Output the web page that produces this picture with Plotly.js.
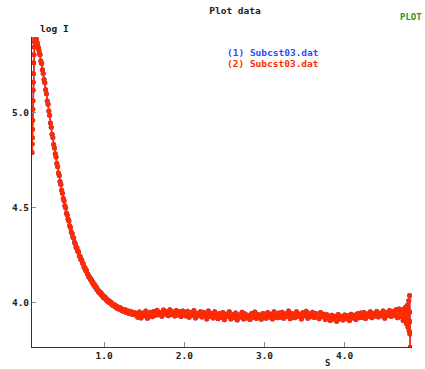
<!DOCTYPE html>
<html>
<head>
<meta charset="utf-8">
<script src="https://cdn.plot.ly/plotly-3.0.1.min.js"></script>
<style>html,body{margin:0;padding:0;background:#fff;}#chart{width:425px;height:369px;}</style>
</head>
<body>
<div id="chart"></div>
<script>
// scattering vector S
var sValues = [
  0.100,0.102,0.104,0.106,0.108,0.110,0.112,0.114,0.116,0.118,0.121,0.124,0.128,0.132,0.136,0.140,0.145,0.150,0.156,0.162,0.170,0.178,0.186,0.194,
  0.20,0.21,0.22,0.23,0.24,0.25,0.26,0.27,0.28,0.29,0.30,0.31,0.32,0.33,0.34,0.35,0.36,0.37,0.38,0.39,
  0.40,0.41,0.42,0.43,0.44,0.45,0.46,0.47,0.48,0.49,0.50,0.51,0.52,0.53,0.54,0.55,0.56,0.57,0.58,0.59,
  0.60,0.61,0.62,0.63,0.64,0.65,0.66,0.67,0.68,0.69,0.70,0.71,0.72,0.73,0.74,0.75,0.76,0.77,0.78,0.79,
  0.80,0.81,0.82,0.83,0.84,0.85,0.86,0.87,0.88,0.89,0.90,0.91,0.92,0.93,0.94,0.95,0.96,0.97,0.98,0.99,
  1.00,1.01,1.02,1.03,1.04,1.05,1.06,1.07,1.08,1.09,1.10,1.11,1.12,1.13,1.14,1.15,1.16,1.17,1.18,1.19,
  1.20,1.21,1.22,1.23,1.24,1.25,1.26,1.27,1.28,1.29,1.30,1.31,1.32,1.33,1.34,1.35,1.36,1.37,1.38,1.39,1.40,
  1.42,1.44,1.46,1.48,1.50,1.52,1.54,1.56,1.58,1.60,
  1.62,1.64,1.66,1.68,1.70,1.72,1.74,1.76,1.78,1.80,
  1.82,1.84,1.86,1.88,1.90,1.92,1.94,1.96,1.98,2.00,
  2.02,2.04,2.06,2.08,2.10,2.12,2.14,2.16,2.18,2.20,
  2.22,2.24,2.26,2.28,2.30,2.32,2.34,2.36,2.38,2.40,
  2.42,2.44,2.46,2.48,2.50,2.52,2.54,2.56,2.58,2.60,
  2.62,2.64,2.66,2.68,2.70,2.72,2.74,2.76,2.78,2.80,
  2.82,2.84,2.86,2.88,2.90,2.92,2.94,2.96,2.98,3.00,
  3.02,3.04,3.06,3.08,3.10,3.12,3.14,3.16,3.18,3.20,
  3.22,3.24,3.26,3.28,3.30,3.32,3.34,3.36,3.38,3.40,
  3.42,3.44,3.46,3.48,3.50,3.52,3.54,3.56,3.58,3.60,
  3.62,3.64,3.66,3.68,3.70,3.72,3.74,3.76,3.78,3.80,
  3.82,3.84,3.86,3.88,3.90,3.92,3.94,3.96,3.98,4.00,
  4.02,4.04,4.06,4.08,4.10,4.12,4.14,4.16,4.18,4.20,
  4.22,4.24,4.26,4.28,4.30,4.32,4.34,4.36,4.38,4.40,
  4.42,4.44,4.46,4.48,4.50,4.52,4.54,4.56,4.58,4.60,
  4.62,4.64,4.66,4.68,4.70,
  4.71,4.72,4.73,4.74,4.75,4.76,4.77,4.78,4.79,4.80,4.805,4.81,4.812,4.814,4.816,4.818
];
// log I, file (1) Subcst03.dat
var logI1 = [
  4.790,4.835,4.868,4.912,4.960,5.018,5.062,5.118,5.160,5.205,5.262,5.305,5.345,5.372,5.388,5.393,5.386,5.392,5.380,5.371,5.362,5.344,5.330,5.312,
  5.304,5.271,5.258,5.225,5.206,5.174,5.157,5.120,5.099,5.061,5.044,5.008,4.986,4.945,4.923,4.886,4.869,4.832,4.814,4.783,
  4.766,4.732,4.715,4.682,4.669,4.637,4.622,4.591,4.576,4.548,4.536,4.509,4.498,4.470,4.461,4.438,4.429,4.404,4.395,4.371,
  4.364,4.344,4.340,4.317,4.310,4.290,4.288,4.270,4.267,4.245,4.243,4.226,4.225,4.208,4.204,4.185,4.184,4.168,4.169,4.151,
  4.147,4.133,4.135,4.121,4.122,4.106,4.107,4.092,4.095,4.081,4.083,4.068,4.069,4.056,4.060,4.047,4.051,4.037,4.040,4.027,
  4.032,4.021,4.025,4.012,4.015,4.003,4.009,3.999,4.003,3.991,3.995,3.984,3.990,3.981,3.986,3.974,3.979,3.968,3.975,3.966,
  3.972,3.961,3.966,3.956,3.964,3.955,3.962,3.949,3.957,3.947,3.955,3.943,3.952,3.942,3.951,3.938,3.948,3.938,3.946,3.934,3.944,
  3.922,3.950,3.919,3.944,3.930,3.955,3.917,3.940,3.949,3.925,
  3.953,3.933,3.960,3.936,3.948,3.928,3.961,3.940,3.952,3.931,
  3.962,3.937,3.950,3.929,3.958,3.934,3.951,3.926,3.955,3.940,
  3.929,3.954,3.922,3.947,3.933,3.958,3.919,3.943,3.930,3.952,
  3.924,3.949,3.935,3.914,3.955,3.927,3.941,3.919,3.951,3.933,
  3.915,3.943,3.922,3.948,3.910,3.938,3.927,3.951,3.913,3.936,
  3.920,3.945,3.908,3.935,3.924,3.949,3.914,3.940,3.919,3.931,
  3.911,3.942,3.922,3.950,3.916,3.937,3.926,3.912,3.943,3.929,
  3.918,3.947,3.924,3.938,3.913,3.952,3.930,3.920,3.945,3.923,
  3.949,3.918,3.940,3.928,3.955,3.915,3.943,3.932,3.920,3.951,
  3.926,3.938,3.914,3.947,3.930,3.954,3.918,3.941,3.925,3.949,
  3.921,3.943,3.932,3.915,3.947,3.927,3.938,3.911,3.936,3.920,
  3.906,3.933,3.914,3.928,3.902,3.937,3.913,3.926,3.908,3.935,
  3.915,3.930,3.906,3.938,3.919,3.933,3.911,3.941,3.920,3.945,
  3.922,3.947,3.916,3.940,3.926,3.951,3.920,3.942,3.929,3.953,
  3.924,3.944,3.931,3.955,3.918,3.948,3.933,3.958,3.926,3.952,
  3.932,3.962,3.920,3.966,3.938,
  3.925,3.962,3.905,3.958,3.918,3.975,3.890,3.985,3.870,4.010,3.850,4.037,3.950,3.835,3.900,3.765
];
// log I, file (2) Subcst03.dat (same file, plotted on top)
var logI2 = logI1.slice();

var seriesNames = ['(1) Subcst03.dat', '(2) Subcst03.dat'];
var seriesColors = ['#2a4bff', '#ff2a00'];
var xTickVals = [1, 2, 3, 4];
var xTickText = ['1.0', '2.0', '3.0', '4.0'];
var yTickVals = [4.0, 4.5, 5.0];
var yTickText = ['4.0', '4.5', '5.0'];

var FONT = 'DejaVu Sans Mono, Liberation Mono, monospace';
var baseFont = {family: FONT, size: 9.5, color: '#222', weight: 'bold'};

var traces = [logI1, logI2].map(function (ys, i) {
  return {
    x: sValues, y: ys, type: 'scatter', mode: 'lines+markers',
    name: seriesNames[i], showlegend: false, hoverinfo: 'skip',
    line: {color: seriesColors[i], width: 1.5},
    marker: {color: seriesColors[i], size: 5}
  };
});

function px(x) { return (x - 32) / 380; }
function py(y) { return (347 - y) / 310; }

var layout = {
  width: 425, height: 369,
  margin: {l: 32, r: 13, t: 37, b: 22, pad: 0},
  paper_bgcolor: '#fff', plot_bgcolor: '#fff',
  font: baseFont,
  title: {text: 'Plot data', font: baseFont, x: 227 / 425, xanchor: 'center', y: 1 - 10.5 / 369, yanchor: 'middle', xref: 'paper', yref: 'container'},
  xaxis: {
    range: [0.1, 4.84], showgrid: false, zeroline: false,
    showline: true, linecolor: '#333', linewidth: 1,
    ticks: 'inside', ticklen: 5, tickcolor: '#888', tickwidth: 1,
    tickvals: xTickVals, ticktext: xTickText, tickfont: baseFont
  },
  yaxis: {
    range: [3.766, 5.398], showgrid: false, zeroline: false,
    showline: true, linecolor: '#333', linewidth: 1,
    ticks: 'inside', ticklen: 4, tickcolor: '#888', tickwidth: 1,
    tickvals: yTickVals, ticktext: yTickText, tickfont: baseFont
  },
  annotations: [
    {text: 'PLOT', xref: 'paper', yref: 'paper', x: px(424), y: py(17), xanchor: 'right', yanchor: 'middle', showarrow: false,
     font: {family: FONT, size: 9, color: '#1a9a1a', weight: 'bold'}},
    {text: 'log I', xref: 'paper', yref: 'paper', x: px(38), y: py(29), xanchor: 'left', yanchor: 'middle', showarrow: false, font: baseFont},
    {text: 'S', xref: 'paper', yref: 'paper', x: px(327.5), y: py(362.5), xanchor: 'center', yanchor: 'middle', showarrow: false,
     font: {family: FONT, size: 9, color: '#222', weight: 'bold'}},
    {text: seriesNames[0], xref: 'paper', yref: 'paper', x: px(225), y: py(52.5), xanchor: 'left', yanchor: 'middle', showarrow: false,
     font: {family: FONT, size: 9.5, color: seriesColors[0], weight: 'bold'}},
    {text: seriesNames[1], xref: 'paper', yref: 'paper', x: px(225), y: py(64), xanchor: 'left', yanchor: 'middle', showarrow: false,
     font: {family: FONT, size: 9.5, color: seriesColors[1], weight: 'bold'}}
  ]
};

Plotly.newPlot('chart', traces, layout, {staticPlot: true, displayModeBar: false});
</script>
</body>
</html>
